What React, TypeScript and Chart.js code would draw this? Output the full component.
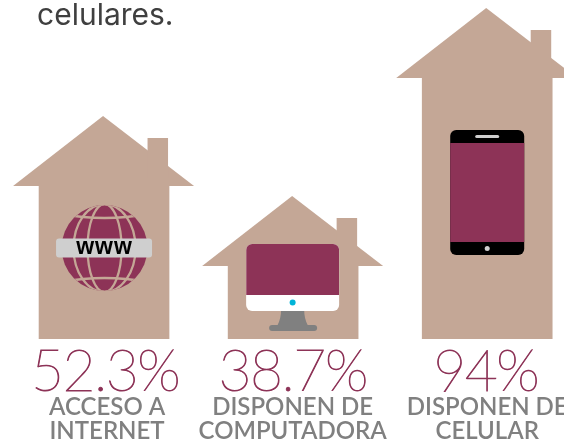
import React, { useEffect, useRef } from "react";
import { Chart, BarController, BarElement, CategoryScale, LinearScale } from "chart.js";

const headingText = "celulares.";
const categories = [["ACCESO A", "INTERNET"], ["DISPONEN DE", "COMPUTADORA"], ["DISPONEN DE", "CELULAR"]];
const percentLabels = ["52.3%", "38.7%", "94%"];
const houseBodyHeights = [153, 73, 261];
const columnNudge = [0, -2.5, 0];
const labelNudge = [3, -3, 0];
const percentNudge = [1, -3, -1.5];

const TAN = "#c4a796";
const WINE = "#8d3357";
const GREY = "#808080";

class HouseAxis extends CategoryScale {
  static id = "houseAxis";
  static defaults = CategoryScale.defaults;
  getPixelForValue(value: number) {
    return super.getPixelForValue(value) + (columnNudge[Math.round(value)] ?? 0);
  }
  getPixelForTick(index: number) {
    return super.getPixelForValue(index) + (labelNudge[index] ?? 0);
  }
}

Chart.register(BarController, BarElement, CategoryScale, LinearScale, HouseAxis as any);

function rr(ctx: CanvasRenderingContext2D, x: number, y: number, w: number, h: number, r: number) {
  ctx.beginPath();
  ctx.roundRect(x, y, w, h, r);
}

function drawGlobe(ctx: CanvasRenderingContext2D) {
  ctx.save();
  ctx.translate(0.5, -91);
  ctx.fillStyle = WINE;
  ctx.beginPath();
  ctx.arc(0, 0, 43, 0, Math.PI * 2);
  ctx.fill();
  ctx.clip();
  ctx.strokeStyle = TAN;
  ctx.lineWidth = 2.3;
  for (const rx of [17, 31]) {
    ctx.beginPath();
    ctx.ellipse(0, 0, rx, 44, 0, 0, Math.PI * 2);
    ctx.stroke();
  }
  ctx.beginPath();
  ctx.moveTo(-43, -34);
  ctx.quadraticCurveTo(0, -26, 43, -34);
  ctx.moveTo(-43, 34);
  ctx.quadraticCurveTo(0, 26, 43, 34);
  ctx.stroke();
  ctx.restore();
  ctx.fillStyle = "#cfcfcf";
  rr(ctx, -48, -100.5, 96, 19, 3);
  ctx.fill();
  ctx.fillStyle = "#000";
  ctx.font = "bold 23px 'Liberation Sans'";
  ctx.textAlign = "center";
  ctx.textBaseline = "middle";
  (ctx as any).letterSpacing = "1px";
  ctx.fillText("www", 0.5, -91.5);
  (ctx as any).letterSpacing = "0px";
}

function drawMonitor(ctx: CanvasRenderingContext2D) {
  ctx.fillStyle = "#808080";
  ctx.beginPath();
  ctx.moveTo(-12, -30);
  ctx.lineTo(11, -30);
  ctx.quadraticCurveTo(11, -20, 15, -13);
  ctx.lineTo(-16, -13);
  ctx.quadraticCurveTo(-12, -20, -12, -30);
  ctx.fill();
  rr(ctx, -24, -14, 48, 6, 3);
  ctx.fill();
  ctx.fillStyle = "#fff";
  rr(ctx, -47, -95, 93, 67, 6);
  ctx.fill();
  ctx.save();
  rr(ctx, -47, -95, 93, 67, 6);
  ctx.clip();
  ctx.fillStyle = WINE;
  ctx.fillRect(-47, -95, 93, 51);
  ctx.restore();
  ctx.fillStyle = "#00b4d8";
  ctx.beginPath();
  ctx.arc(-0.5, -36.5, 3, 0, Math.PI * 2);
  ctx.fill();
}

function drawPhone(ctx: CanvasRenderingContext2D) {
  ctx.fillStyle = "#000";
  rr(ctx, -37, -209, 74, 125, 6);
  ctx.fill();
  ctx.fillStyle = WINE;
  ctx.fillRect(-37, -196, 74, 99);
  ctx.fillStyle = "#cfcfcf";
  rr(ctx, -12, -204, 24, 3, 1.5);
  ctx.fill();
  ctx.beginPath();
  ctx.arc(0, -90.5, 2.5, 0, Math.PI * 2);
  ctx.fill();
}

const icons = [drawGlobe, drawMonitor, drawPhone];

const houseArt = {
  id: "houseArt",
  afterDatasetsDraw(chart: Chart) {
    const ctx = chart.ctx;
    chart.getDatasetMeta(0).data.forEach((bar: any, i: number) => {
      const half = bar.width / 2;
      ctx.save();
      ctx.translate(bar.x, bar.y);
      ctx.fillStyle = TAN;
      ctx.beginPath();
      ctx.moveTo(-half - 26, 0);
      ctx.lineTo(-1, -70);
      ctx.lineTo(half + 25, 0);
      ctx.closePath();
      ctx.fill();
      ctx.fillRect(half - 21.5, -48, 20.5, 40);
      ctx.restore();
      ctx.save();
      ctx.translate(bar.x, bar.base);
      icons[i](ctx);
      ctx.restore();
      ctx.save();
      ctx.fillStyle = WINE;
      ctx.strokeStyle = WINE;
      ctx.lineWidth = 0.9;
      ctx.font = "100 57px Lato";
      (ctx as any).letterSpacing = "-1.5px";
      ctx.textAlign = "center";
      ctx.textBaseline = "alphabetic";
      const px = bar.x - columnNudge[i] + percentNudge[i];
      ctx.fillText(percentLabels[i], px, bar.base + 52);
      ctx.strokeText(percentLabels[i], px, bar.base + 52);
      ctx.restore();
    });
    ctx.save();
    ctx.fillStyle = "#3f3f3f";
    ctx.font = "30px Inter";
    ctx.textAlign = "left";
    ctx.textBaseline = "alphabetic";
    ctx.fillText(headingText, 37, 25);
    ctx.restore();
  },
};

export default function App() {
  const ref = useRef<HTMLCanvasElement>(null);
  useEffect(() => {
    const chart = new Chart(ref.current!, {
      type: "bar",
      data: {
        labels: categories as any,
        datasets: [{ data: houseBodyHeights, backgroundColor: TAN, borderWidth: 0, barThickness: 130 }],
      },
      options: {
        animation: false,
        responsive: false,
        layout: { padding: { left: 8.25, right: 0, top: 0, bottom: 0 } },
        plugins: { legend: { display: false }, tooltip: { enabled: false }, title: { display: false } },
        scales: {
          x: {
            type: "houseAxis" as any,
            afterFit: (s: any) => { s.height = 104; s.paddingLeft = 0; s.paddingRight = 0; },
            grid: { display: false, drawTicks: false },
            border: { display: false },
            ticks: {
              autoSkip: false, maxRotation: 0, minRotation: 0, padding: 56,
              color: GREY,
              font: { family: "Lato", size: 24, weight: 600 as any, lineHeight: 1 },
            },
          },
          y: { display: false, min: 0, max: 339 },
        },
      },
      plugins: [houseArt],
    });
    return () => chart.destroy();
  }, []);
  return (
    <div style={{ position: "absolute", left: 0, top: 0, width: 564, height: 443, overflow: "hidden", background: "#fff" }}>
      <canvas ref={ref} width={583} height={443} style={{ display: "block" }} />
    </div>
  );
}
